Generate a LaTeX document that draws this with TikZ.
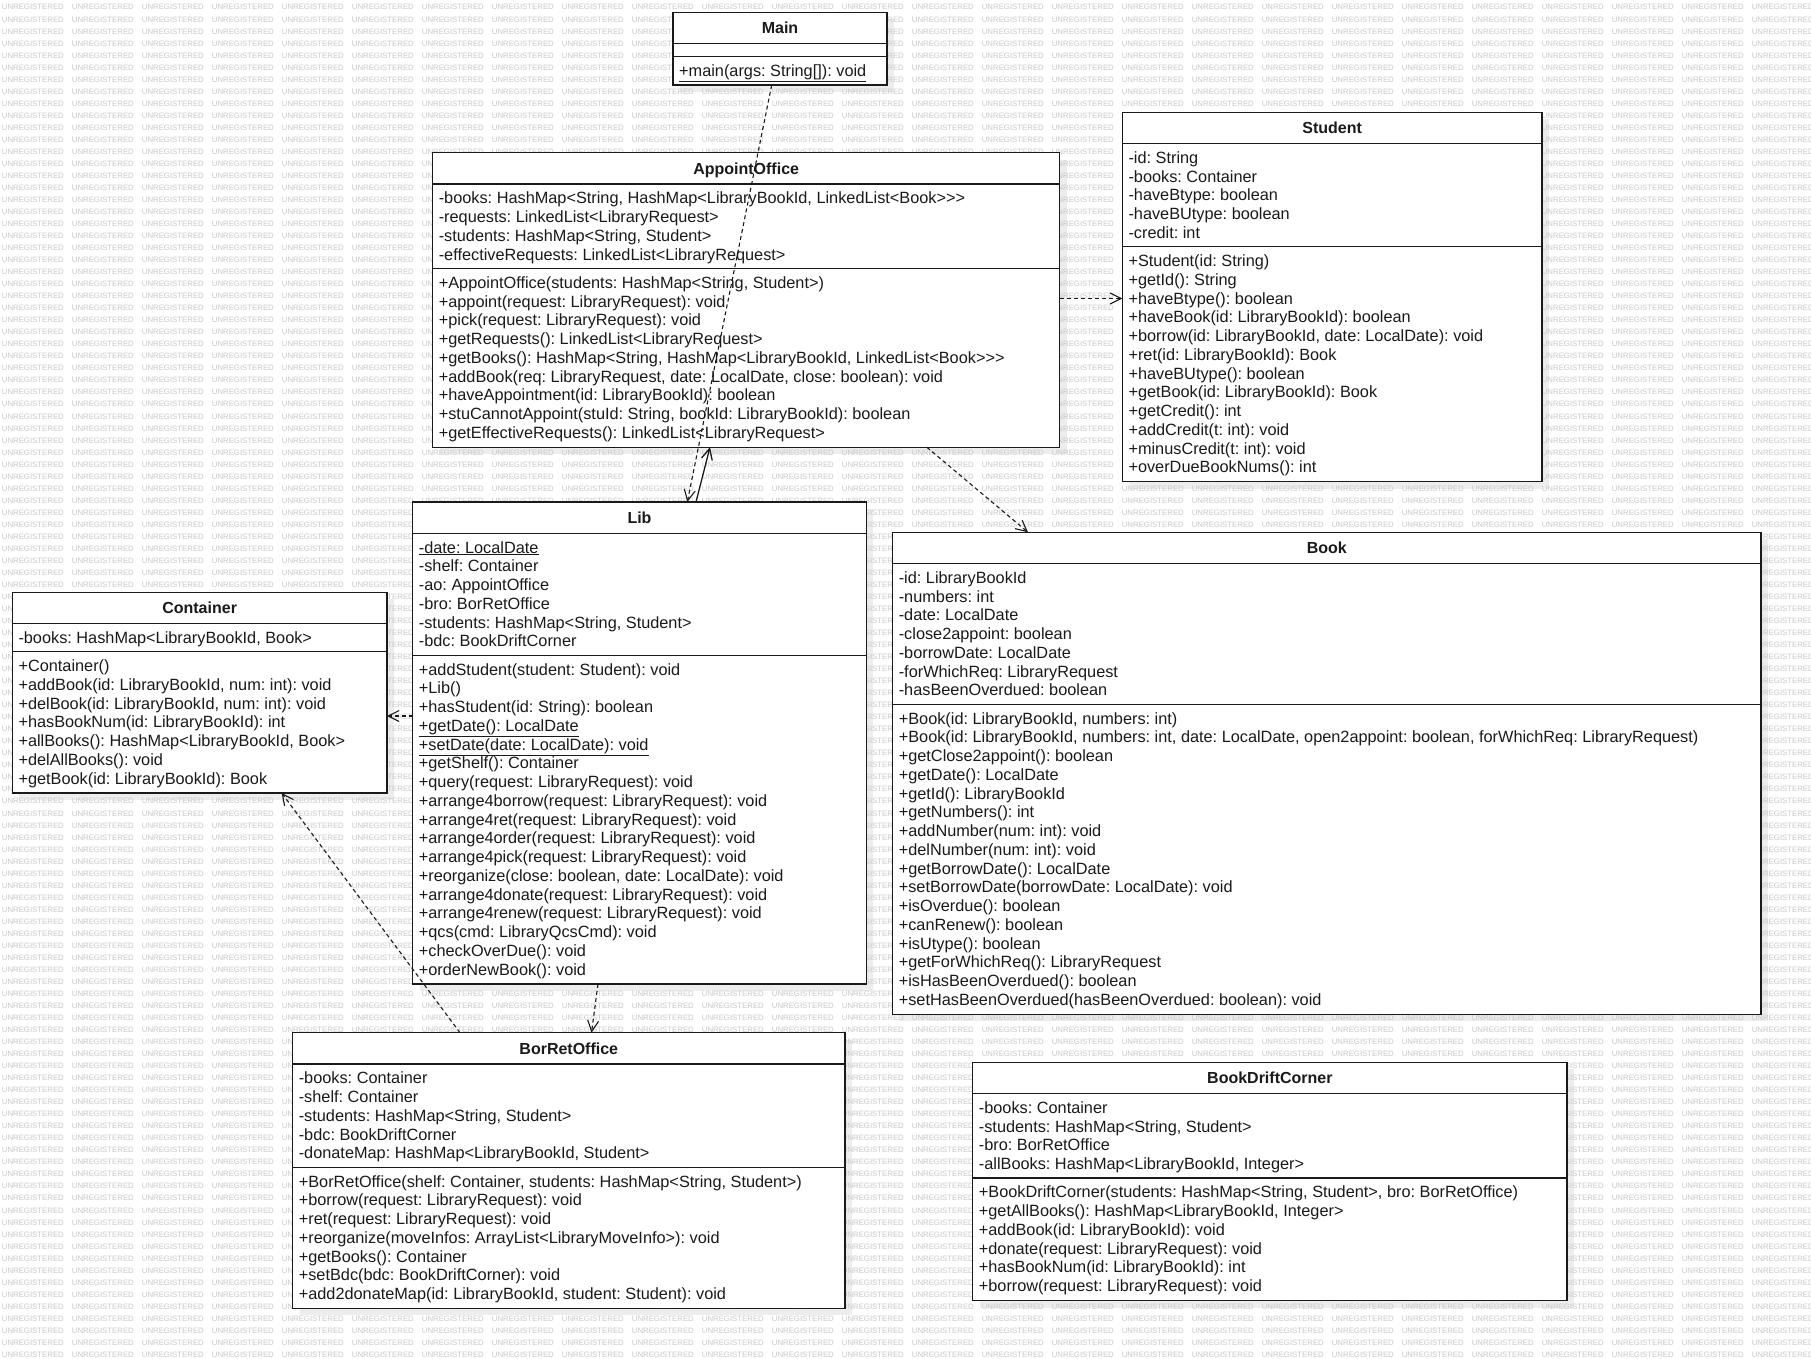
\documentclass[tikz,border=0pt]{standalone}
\usepackage{fontspec}
\setmainfont{Liberation Sans}[Ligatures={TeXOff,CommonOff}]
\usetikzlibrary{arrows.meta,calc}
\pgfdeclarelayer{bg}
\pgfdeclarelayer{shadow}
\pgfdeclarelayer{wm}
\pgfsetlayers{bg,shadow,wm,main}
\definecolor{ink}{HTML}{1A1A1A}
\definecolor{wmgray}{HTML}{C8C8C8}
\definecolor{shadowgray}{HTML}{EDEDED}
\newcommand{\wmword}{\makebox[70pt][l]{UNREGISTERED}}
\newcommand{\wmrow}{\wmword\wmword\wmword\wmword\wmword\wmword\wmword\wmword\wmword\wmword\wmword\wmword\wmword\wmword\wmword\wmword\wmword\wmword\wmword\wmword\wmword\wmword\wmword\wmword\wmword\wmword}
\tikzset{
  classbox/.style={draw=ink, fill=white, line width=1.2pt, rectangle, inner sep=0pt, outer sep=0pt},
  sepline/.style={draw=ink, line width=1.2pt},
  classtitle/.style={font=\fontsize{16pt}{18.75pt}\selectfont\bfseries, text=ink, inner sep=0pt, anchor=base},
  members/.style={font=\fontsize{16.3pt}{18.75pt}\selectfont, text=ink, inner sep=0pt, align=left, anchor=north west},
  wmtext/.style={font=\fontsize{7.8pt}{8pt}\selectfont, text=wmgray, inner sep=0pt, anchor=west},
  dep/.style={draw=ink, line width=1.1pt, dash pattern=on 4pt off 3pt, -{Straight Barb[length=11pt,width=11pt]}},
  assoc/.style={draw=ink, line width=1.3pt, -{Straight Barb[length=11pt,width=11pt]}},
}
% #1 name, #2 x, #3 top, #4 width, #5 title, #6 n attrs, #7 attrs, #8 n ops, #9 ops
\newcommand{\umlclass}[9]{%
  \pgfmathsetmacro{\ha}{ifthenelse(#6==0,12.7,#6*18.75+9.5)}%
  \pgfmathsetmacro{\hm}{#8*18.75+10}%
  \pgfmathsetmacro{\htot}{31.2+\ha+\hm}%
  \pgfmathsetmacro{\ysa}{#3+31.2}%
  \pgfmathsetmacro{\ysb}{#3+31.2+\ha}%
  \begin{pgfonlayer}{shadow}\fill[shadowgray] (#2+7,#3+7) rectangle ++(#4,\htot);\end{pgfonlayer}%
  \node[classbox, minimum width=#4pt, minimum height=\htot pt, anchor=north west] (#1) at (#2,#3) {};%
  \draw[sepline] (#2,\ysa) -- ++(#4,0);%
  \draw[sepline] (#2,\ysb) -- ++(#4,0);%
  \node[classtitle] (#1-title) at (#2+#4/2,#3+21.5) {#5};%
  \ifnum#6>0 \node[members] (#1-attrs) at (#2+6,\ysa+6.7) {\rule{0pt}{13pt}#7};\fi
  \node[members] (#1-ops) at (#2+6,\ysb+6.7) {\rule{0pt}{13pt}#9};%
}
\begin{document}
\frenchspacing
\begin{tikzpicture}[x=1pt,y=-1pt]
\useasboundingbox (0,0) rectangle (1811,1358);
\begin{pgfonlayer}{bg}
\fill[white] (0,0) rectangle (1811,1358);
\end{pgfonlayer}
\begin{pgfonlayer}{wm}
\foreach \r in {0,...,112} {
  \node[wmtext] (wm\r) at (1.7, 7.3+\r*12.03) {\wmrow};
}
\end{pgfonlayer}

\umlclass{main}{673}{12.3}{214}{Main}{0}{}{1}{\underline{+main(args: String[]): void}}

\umlclass{ao}{432.6}{152.7}{627.1}{AppointOffice}{4}{%
-books: HashMap<String, HashMap<LibraryBookId, LinkedList<Book>>>\\
-requests: LinkedList<LibraryRequest>\\
-students: HashMap<String, Student>\\
-effectiveRequests: LinkedList<LibraryRequest>}{9}{%
+AppointOffice(students: HashMap<String, Student>)\\
+appoint(request: LibraryRequest): void\\
+pick(request: LibraryRequest): void\\
+getRequests(): LinkedList<LibraryRequest>\\
+getBooks(): HashMap<String, HashMap<LibraryBookId, LinkedList<Book>>>\\
+addBook(req: LibraryRequest, date: LocalDate, close: boolean): void\\
+haveAppointment(id: LibraryBookId): boolean\\
+stuCannotAppoint(stuId: String, bookId: LibraryBookId): boolean\\
+getEffectiveRequests(): LinkedList<LibraryRequest>}

\umlclass{student}{1122.3}{112.3}{419.7}{Student}{5}{%
-id: String\\
-books: Container\\
-haveBtype: boolean\\
-haveBUtype: boolean\\
-credit: int}{12}{%
+Student(id: String)\\
+getId(): String\\
+haveBtype(): boolean\\
+haveBook(id: LibraryBookId): boolean\\
+borrow(id: LibraryBookId, date: LocalDate): void\\
+ret(id: LibraryBookId): Book\\
+haveBUtype(): boolean\\
+getBook(id: LibraryBookId): Book\\
+getCredit(): int\\
+addCredit(t: int): void\\
+minusCredit(t: int): void\\
+overDueBookNums(): int}

\umlclass{lib}{412.7}{502}{453.6}{Lib}{6}{%
\underline{-date: LocalDate}\\
-shelf: Container\\
-ao: AppointOffice\\
-bro: BorRetOffice\\
-students: HashMap<String, Student>\\
-bdc: BookDriftCorner}{17}{%
+addStudent(student: Student): void\\
+Lib()\\
+hasStudent(id: String): boolean\\
\underline{+getDate(): LocalDate}\\
\underline{+setDate(date: LocalDate): void}\\
+getShelf(): Container\\
+query(request: LibraryRequest): void\\
+arrange4borrow(request: LibraryRequest): void\\
+arrange4ret(request: LibraryRequest): void\\
+arrange4order(request: LibraryRequest): void\\
+arrange4pick(request: LibraryRequest): void\\
+reorganize(close: boolean, date: LocalDate): void\\
+arrange4donate(request: LibraryRequest): void\\
+arrange4renew(request: LibraryRequest): void\\
+qcs(cmd: LibraryQcsCmd): void\\
+checkOverDue(): void\\
+orderNewBook(): void}

\umlclass{container}{12.3}{592.3}{374.7}{Container}{1}{%
-books: HashMap<LibraryBookId, Book>}{7}{%
+Container()\\
+addBook(id: LibraryBookId, num: int): void\\
+delBook(id: LibraryBookId, num: int): void\\
+hasBookNum(id: LibraryBookId): int\\
+allBooks(): HashMap<LibraryBookId, Book>\\
+delAllBooks(): void\\
+getBook(id: LibraryBookId): Book}

\umlclass{book}{892.6}{532.3}{868.4}{Book}{7}{%
-id: LibraryBookId\\
-numbers: int\\
-date: LocalDate\\
-close2appoint: boolean\\
-borrowDate: LocalDate\\
-forWhichReq: LibraryRequest\\
-hasBeenOverdued: boolean}{16}{%
+Book(id: LibraryBookId, numbers: int)\\
+Book(id: LibraryBookId, numbers: int, date: LocalDate, open2appoint: boolean, forWhichReq: LibraryRequest)\\
+getClose2appoint(): boolean\\
+getDate(): LocalDate\\
+getId(): LibraryBookId\\
+getNumbers(): int\\
+addNumber(num: int): void\\
+delNumber(num: int): void\\
+getBorrowDate(): LocalDate\\
+setBorrowDate(borrowDate: LocalDate): void\\
+isOverdue(): boolean\\
+canRenew(): boolean\\
+isUtype(): boolean\\
+getForWhichReq(): LibraryRequest\\
+isHasBeenOverdued(): boolean\\
+setHasBeenOverdued(hasBeenOverdued: boolean): void}

\umlclass{bro}{292.6}{1032.7}{552.4}{BorRetOffice}{5}{%
-books: Container\\
-shelf: Container\\
-students: HashMap<String, Student>\\
-bdc: BookDriftCorner\\
-donateMap: HashMap<LibraryBookId, Student>}{7}{%
+BorRetOffice(shelf: Container, students: HashMap<String, Student>)\\
+borrow(request: LibraryRequest): void\\
+ret(request: LibraryRequest): void\\
+reorganize(moveInfos: ArrayList<LibraryMoveInfo>): void\\
+getBooks(): Container\\
+setBdc(bdc: BookDriftCorner): void\\
+add2donateMap(id: LibraryBookId, student: Student): void}

\umlclass{bdc}{972.7}{1062.3}{594.3}{BookDriftCorner}{4}{%
-books: Container\\
-students: HashMap<String, Student>\\
-bro: BorRetOffice\\
-allBooks: HashMap<LibraryBookId, Integer>}{6}{%
+BookDriftCorner(students: HashMap<String, Student>, bro: BorRetOffice)\\
+getAllBooks(): HashMap<LibraryBookId, Integer>\\
+addBook(id: LibraryBookId): void\\
+donate(request: LibraryRequest): void\\
+hasBookNum(id: LibraryBookId): int\\
+borrow(request: LibraryRequest): void}

% connectors
\draw[dep] ($(main.south west)+(98.7,0)$) -- ($(lib.north west)+(274.6,0)$);
\draw[assoc] ($(lib.north west)+(283.3,0)$) -- ($(ao.south west)+(277.4,0)$);
\draw[dep] ($(ao.north east)+(0,145.8)$) -- ($(student.north west)+(0,186.2)$);
\draw[dep] ($(ao.south west)+(494.1,0)$) -- ($(book.north west)+(135.4,0)$);
\draw[dep] ($(lib.north west)+(0,214)$) -- ($(container.north east)+(0,123.7)$);
\draw[dep] ($(bro.north west)+(167.4,0)$) -- ($(container.south west)+(269.4,0)$);
\draw[dep] ($(lib.south west)+(185.3,0)$) -- ($(bro.north west)+(298.9,0)$);
\end{tikzpicture}
\end{document}
